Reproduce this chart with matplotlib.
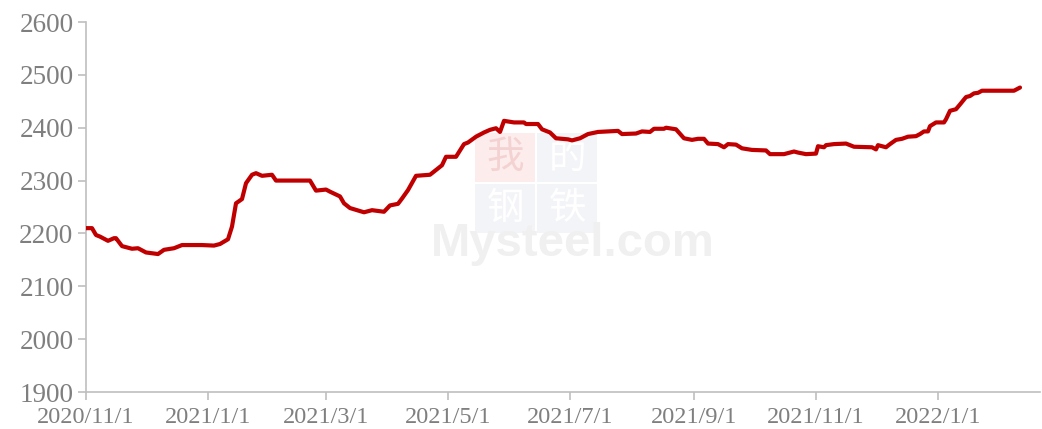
import pandas as pd
import matplotlib
matplotlib.use("Agg")
import matplotlib.pyplot as plt
from matplotlib.patches import Rectangle

dates = [
    "2020-11-01", "2020-11-04", "2020-11-06", "2020-11-08", "2020-11-12", "2020-11-15",
    "2020-11-16", "2020-11-19", "2020-11-24", "2020-11-27", "2020-12-01", "2020-12-07",
    "2020-12-10", "2020-12-15", "2020-12-19", "2020-12-23", "2020-12-29", "2021-01-04",
    "2021-01-07", "2021-01-11", "2021-01-13", "2021-01-15", "2021-01-18", "2021-01-20",
    "2021-01-23", "2021-01-25", "2021-01-28", "2021-02-02", "2021-02-04", "2021-02-21",
    "2021-02-24", "2021-03-01", "2021-03-03", "2021-03-08", "2021-03-10", "2021-03-13",
    "2021-03-20", "2021-03-24", "2021-03-30", "2021-04-02", "2021-04-06", "2021-04-08",
    "2021-04-11", "2021-04-15", "2021-04-22", "2021-04-25", "2021-04-28", "2021-04-30",
    "2021-05-05", "2021-05-09", "2021-05-11", "2021-05-15", "2021-05-19", "2021-05-22",
    "2021-05-25", "2021-05-27", "2021-05-29", "2021-06-03", "2021-06-08", "2021-06-09",
    "2021-06-15", "2021-06-17", "2021-06-21", "2021-06-24", "2021-06-30", "2021-07-02",
    "2021-07-06", "2021-07-10", "2021-07-15", "2021-07-25", "2021-07-27", "2021-08-03",
    "2021-08-06", "2021-08-10", "2021-08-12", "2021-08-17", "2021-08-18", "2021-08-23",
    "2021-08-27", "2021-08-31", "2021-09-03", "2021-09-06", "2021-09-08", "2021-09-13",
    "2021-09-16", "2021-09-18", "2021-09-22", "2021-09-25", "2021-09-30", "2021-10-07",
    "2021-10-09", "2021-10-16", "2021-10-21", "2021-10-23", "2021-10-27", "2021-11-01",
    "2021-11-02", "2021-11-05", "2021-11-06", "2021-11-10", "2021-11-16", "2021-11-20",
    "2021-11-29", "2021-12-01", "2021-12-02", "2021-12-06", "2021-12-08", "2021-12-11",
    "2021-12-14", "2021-12-17", "2021-12-21", "2021-12-23", "2021-12-25", "2021-12-27",
    "2021-12-28", "2021-12-31", "2022-01-04", "2022-01-05", "2022-01-07", "2022-01-10",
    "2022-01-12", "2022-01-15", "2022-01-17", "2022-01-19", "2022-01-21", "2022-01-23",
    "2022-02-08", "2022-02-11",
]
prices = [
    2210, 2210, 2197, 2194, 2186, 2191,
    2191, 2176, 2171, 2172, 2164, 2161,
    2169, 2172, 2178, 2178, 2178, 2177,
    2180, 2189, 2213, 2257, 2265, 2295,
    2311, 2314, 2309, 2311, 2300, 2300,
    2281, 2283, 2279, 2270, 2257, 2248,
    2240, 2244, 2241, 2253, 2256, 2266,
    2282, 2309, 2311, 2320, 2329, 2345,
    2345, 2369, 2372, 2383, 2391, 2396,
    2399, 2392, 2413, 2410, 2410, 2407,
    2407, 2397, 2391, 2380, 2378, 2376,
    2380, 2388, 2392, 2394, 2388, 2389,
    2393, 2392, 2398, 2398, 2400, 2397,
    2380, 2377, 2379, 2379, 2370, 2369,
    2363, 2369, 2368, 2361, 2358, 2357,
    2350, 2350, 2355, 2353, 2350, 2351,
    2365, 2363, 2367, 2369, 2370, 2364,
    2363, 2359, 2367, 2363, 2369, 2377,
    2379, 2383, 2384, 2388, 2393, 2393,
    2403, 2410, 2410, 2416, 2432, 2435,
    2444, 2458, 2460, 2465, 2466, 2470,
    2470, 2476,
]
tick_dates = ["2020-11-01", "2021-01-01", "2021-03-01", "2021-05-01",
              "2021-07-01", "2021-09-01", "2021-11-01", "2022-01-01"]
tick_labels = ["2020/11/1", "2021/1/1", "2021/3/1", "2021/5/1",
               "2021/7/1", "2021/9/1", "2021/11/1", "2022/1/1"]

plt.rcParams["font.family"] = ["Liberation Serif", "DejaVu Serif"]

fig = plt.figure(figsize=(10.42, 4.29), dpi=100)
ax = fig.add_axes([86 / 1042, 37 / 429, 954 / 1042, 370 / 429])

# faint watermark behind the line
wm_boxes = [("我", 0.408, 0.568, "#fcecec", "#f4d2d2"),
            ("的", 0.473, 0.568, "#f3f4f7", "#ffffff"),
            ("钢", 0.408, 0.430, "#f3f4f7", "#ffffff"),
            ("铁", 0.473, 0.430, "#f3f4f7", "#ffffff")]
for ch, bx, by, bg, fg in wm_boxes:
    ax.add_patch(Rectangle((bx, by), 0.063, 0.132, transform=ax.transAxes,
                           facecolor=bg, edgecolor="none", zorder=0))
    ax.text(bx + 0.0315, by + 0.066, ch, transform=ax.transAxes, ha="center",
            va="center", fontsize=27, color=fg, family=["Noto Sans CJK SC"],
            zorder=0.5)
ax.text(0.51, 0.40, "Mysteel.com", transform=ax.transAxes, ha="center",
        va="center", fontsize=34, fontweight="bold", color="#f0f0f0",
        family=["Liberation Sans"], zorder=0.5)

x = pd.to_datetime(dates)
ax.plot(x, prices, color="#c00000", linewidth=3.0, zorder=3,
        solid_joinstyle="round", solid_capstyle="round")

ax.set_ylim(1900, 2600)
ax.set_yticks(range(1900, 2601, 100))
ax.set_xlim(pd.Timestamp("2020-11-01"), pd.Timestamp("2022-02-21"))
ax.set_xticks(pd.to_datetime(tick_dates))
ax.set_xticklabels(tick_labels)

for side in ["top", "right"]:
    ax.spines[side].set_visible(False)
for side in ["left", "bottom"]:
    ax.spines[side].set_color("#bfbfbf")
    ax.spines[side].set_linewidth(1.2)
ax.tick_params(axis="both", colors="#bfbfbf", length=6, width=1.2)
ax.tick_params(axis="y", labelsize=19.5, labelcolor="#7f7f7f", pad=3)
ax.tick_params(axis="x", labelsize=17.5, labelcolor="#7f7f7f", pad=5)

fig.savefig("out.png", dpi=100)
